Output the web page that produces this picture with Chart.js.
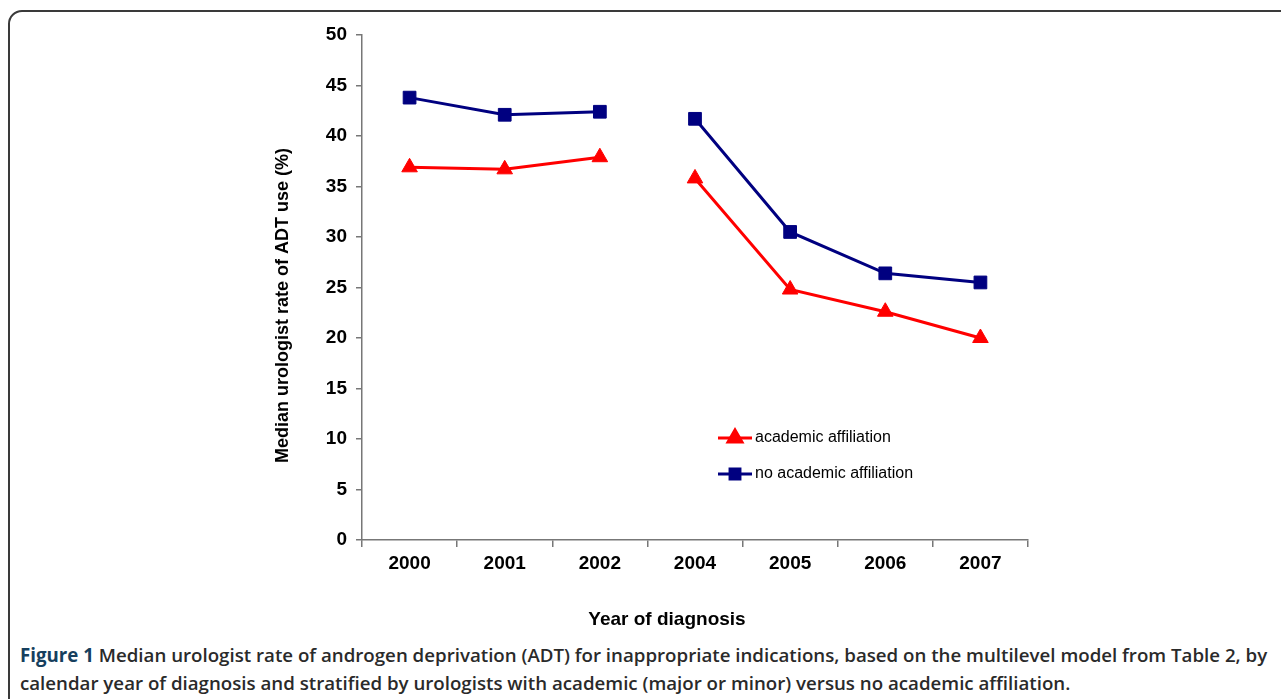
<!DOCTYPE html>
<html>
<head>
<meta charset="utf-8">
<script src="https://cdn.jsdelivr.net/npm/chart.js@4.4.1/dist/chart.umd.min.js"></script>
<style>
  html, body { margin: 0; padding: 0; background: #fff; }
  body { width: 1281px; height: 699px; position: relative; overflow: hidden; }
  .frame {
    position: absolute; left: 8px; top: 10px; width: 1320px; height: 740px;
    border: 2px solid #3a3a3a; border-radius: 14px; box-sizing: border-box;
  }
  #wrap { position: absolute; left: 0; top: 0; width: 1281px; height: 640px; }
  .caption {
    position: absolute; left: 20px; top: 641px; width: 1260px;
    font-family: "Open Sans", "Noto Sans", sans-serif; font-weight: 600;
    font-size: 18.7px; line-height: 28px; color: #2a2a2a; white-space: nowrap;
  }
  .caption b { color: #163f5e; font-weight: 700; }
</style>
</head>
<body>
<div class="frame"></div>
<div id="wrap"><canvas id="adtChart"></canvas></div>
<div class="caption">
  <b>Figure 1</b> Median urologist rate of androgen deprivation (ADT) for inappropriate indications, based on the multilevel model from Table 2, by<br>
  calendar year of diagnosis and stratified by urologists with academic (major or minor) versus no academic affiliation.
</div>
<script>
// === ADT RATE BY YEAR ===

const years = ['2000', '2001', '2002', '2004', '2005', '2006', '2007'];
const academic = [36.9, 36.7, 37.9, 35.8, 24.8, 22.6, 20.0];
const noAcademic = [43.8, 42.1, 42.4, 41.7, 30.5, 26.4, 25.5];
const yTicks = [0, 5, 10, 15, 20, 25, 30, 35, 40, 45, 50];

const RED = '#ff0000';
const NAVY = '#000080';
const FONT = '"Liberation Sans", Arial, sans-serif';

// no line between 2002 and 2004 (2003 missing)
function gapColor(color) {
    return ctx => ctx.p0DataIndex === 2 ? 'rgba(0,0,0,0)' : color;
}

// legend inside the plot area + axis titles placed like the original (not centred)
const extras = {
    id: 'extras',
    afterDraw(chart) {
        const ctx = chart.ctx;
        const area = chart.chartArea;
        const x0 = area.left + 356;
        let y = area.top + 403;
        ctx.save();
        chart.data.datasets.forEach(ds => {
            ctx.strokeStyle = ds.borderColor;
            ctx.lineWidth = 3;
            ctx.beginPath();
            ctx.moveTo(x0, y);
            ctx.lineTo(x0 + 34, y);
            ctx.stroke();
            ctx.fillStyle = ds.borderColor;
            Chart.helpers.drawPoint(ctx, {
                pointStyle: ds.pointStyle,
                radius: ds.legendRadius,
                borderWidth: 1
            }, x0 + 17, y);
            ctx.fillStyle = '#000';
            ctx.font = '16px ' + FONT;
            ctx.textBaseline = 'middle';
            ctx.fillText(ds.label, x0 + 37, y);
            y += 36;
        });

        ctx.fillStyle = '#000';
        ctx.textAlign = 'center';
        ctx.textBaseline = 'middle';
        ctx.font = 'bold 19px ' + FONT;
        ctx.fillText('Year of diagnosis', area.left + 305, area.bottom + 80);

        ctx.translate(area.left - 79, (area.top + area.bottom) / 2 + 18);
        ctx.rotate(-Math.PI / 2);
        ctx.font = 'bold 18px ' + FONT;
        ctx.fillText('Median urologist rate of ADT use (%)', 0, 0);
        ctx.restore();
    }
};

const tickFont = { family: FONT, size: 19, weight: 'bold' };

new Chart(document.getElementById('adtChart'), {
    type: 'line',
    data: {
        labels: years,
        datasets: [{
            label: 'academic affiliation',
            data: academic,
            borderColor: RED,
            backgroundColor: RED,
            borderWidth: 3,
            pointStyle: 'triangle',
            pointRadius: 9,
            legendRadius: 8,
            pointBorderWidth: 1,
            segment: { borderColor: gapColor(RED) }
        }, {
            label: 'no academic affiliation',
            data: noAcademic,
            borderColor: NAVY,
            backgroundColor: NAVY,
            borderWidth: 3,
            pointStyle: 'rect',
            pointRadius: 9,
            legendRadius: 7,
            pointBorderWidth: 1,
            segment: { borderColor: gapColor(NAVY) }
        }]
    },
    options: {
        responsive: true,
        maintainAspectRatio: false,
        animation: false,
        layout: { padding: { left: 262, right: 253, top: 35, bottom: 0 } },
        plugins: {
            legend: { display: false },
            tooltip: { enabled: false }
        },
        scales: {
            x: {
                offset: true,
                grid: { offset: true, drawOnChartArea: false, tickLength: 7, color: '#777', lineWidth: 1.5 },
                border: { color: '#777', width: 1.5 },
                ticks: { color: '#000', font: tickFont, padding: 5 },
                afterFit: scale => { scale.height = 100; }
            },
            y: {
                min: 0,
                max: 50,
                afterBuildTicks: scale => { scale.ticks = yTicks.map(v => ({ value: v })); },
                grid: { drawOnChartArea: false, tickLength: 6, color: '#777', lineWidth: 1.5 },
                border: { color: '#777', width: 1.5 },
                ticks: { color: '#000', font: tickFont, padding: 9 },
                afterFit: scale => { scale.width = 100; }
            }
        }
    },
    plugins: [extras]
});
</script>
</body>
</html>
